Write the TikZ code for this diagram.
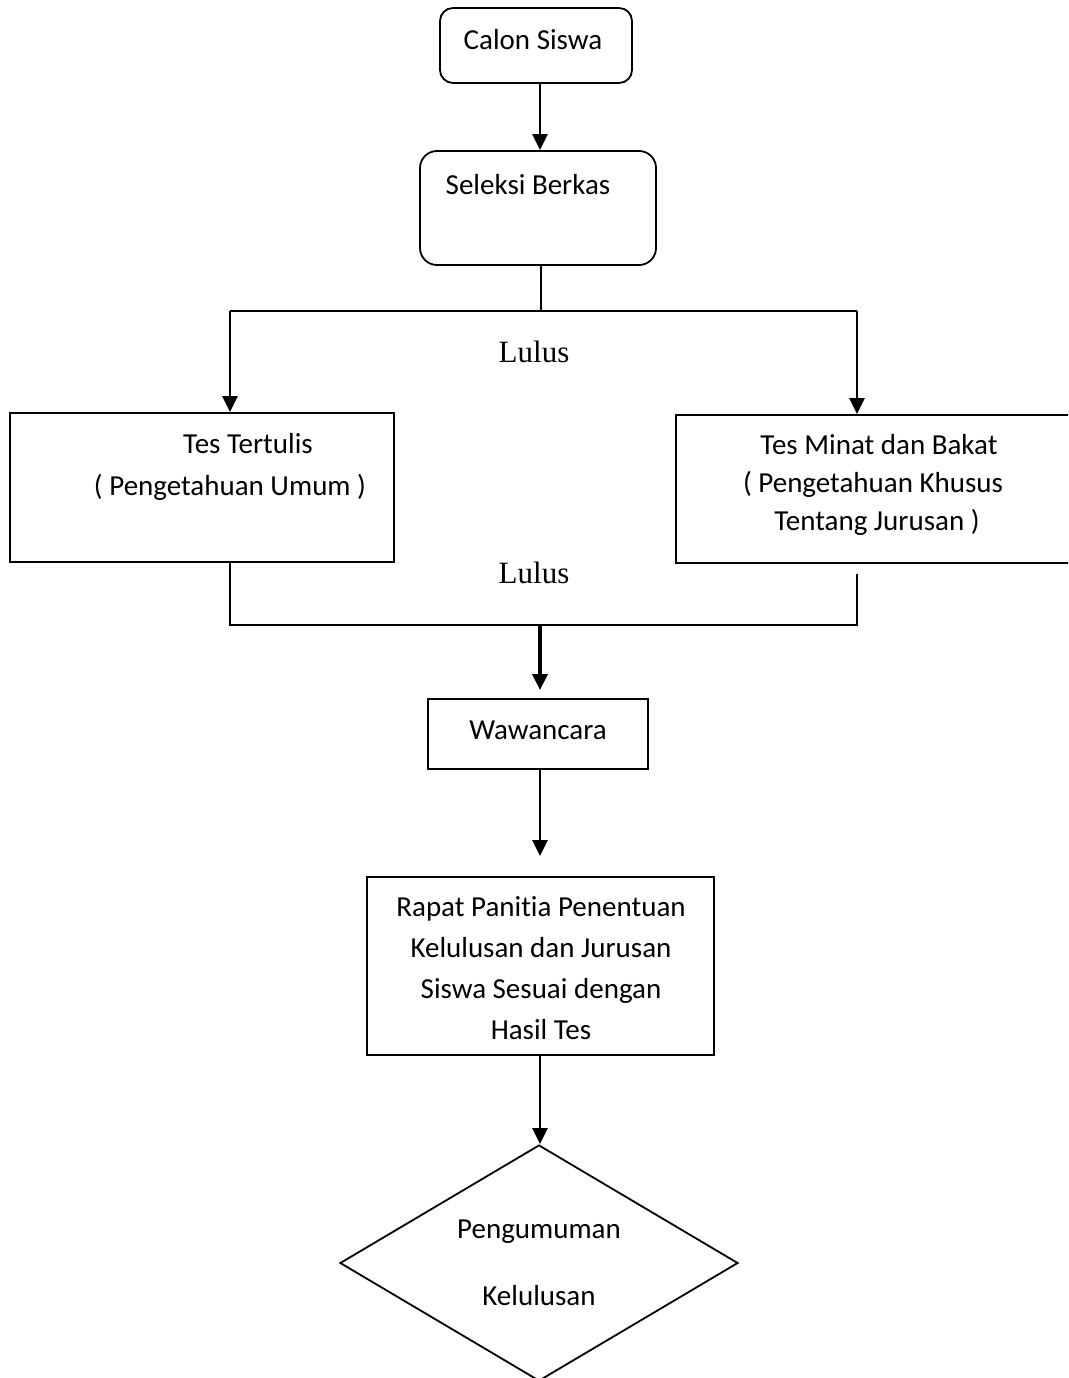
\documentclass[tikz,border=0pt]{standalone}
\usepackage{fontspec}
\setmainfont{Carlito}[Ligatures=NoCommon]
\newfontfamily\lulusfont{Liberation Serif}
\usetikzlibrary{arrows.meta,shapes.geometric}
\begin{document}
\begin{tikzpicture}[x=1pt,y=-1pt,
  boxline/.style={draw,line width=1.8pt,inner sep=0pt},
  rbox/.style={boxline,rounded corners=#1},
  lbl/.style={anchor=base,inner sep=0pt,font=\fontsize{29}{35}\selectfont},
  lulus/.style={anchor=base,inner sep=0pt,font=\lulusfont\fontsize{31}{36}\selectfont},
  conn/.style={line width=1.8pt},
  arr/.style={line width=2.4pt,-{Triangle[length=16pt,width=15pt]}}
]
\useasboundingbox (0,0) rectangle (1068,1378);
\clip (0,0) rectangle (1068,1378);

% boxes
\node[rbox=13pt,minimum width=192pt,minimum height=75pt] (calon) at (536,45.5) {};
\node[rbox=17pt,minimum width=236pt,minimum height=114pt] (seleksi) at (538,208) {};
\node[boxline,minimum width=384pt,minimum height=149pt] (tt) at (202,487.5) {};
\node[boxline,minimum width=399pt,minimum height=148pt] (tm) at (875.5,489) {};
\node[boxline,minimum width=220pt,minimum height=70pt] (waw) at (538,734) {};
\node[boxline,minimum width=347pt,minimum height=178pt] (rapat) at (540.5,966) {};
\node[boxline,shape=diamond,minimum width=398pt,minimum height=236pt] (peng) at (539,1263) {};

% texts
\node[lbl] (tcalon) at (533,50) {Calon Siswa};
\node[lbl] (tsel) at (528,194) {Seleksi Berkas};
\node[lulus] (lulus1) at (534,362) {Lulus};
\node[lbl] (ttt1) at (248,453) {Tes Tertulis};
\node[lbl] (ttt2) at (230,495) {( Pengetahuan Umum )};
\node[lbl] (ttm1) at (879,454) {Tes Minat dan Bakat};
\node[lbl] (ttm2) at (873,492) {( Pengetahuan Khusus};
\node[lbl] (ttm3) at (877,530) {Tentang Jurusan )};
\node[lulus] (lulus2) at (534,583) {Lulus};
\node[lbl] (twaw) at (538,739) {Wawancara};
\node[lbl] (tr1) at (541,916) {Rapat Panitia Penentuan};
\node[lbl] (tr2) at (541,957) {Kelulusan dan Jurusan};
\node[lbl] (tr3) at (541,998) {Siswa Sesuai dengan};
\node[lbl] (tr4) at (541,1039) {Hasil Tes};
\node[lbl] (tp1) at (539,1238) {Pengumuman};
\node[lbl] (tp2) at (539,1305) {Kelulusan};

% junction coordinates
\coordinate (cx) at (540,0);
\coordinate (s1) at (541,311);
\coordinate (sl) at (230,311);
\coordinate (sr) at (857,311);
\coordinate (j1) at (540,625);
\coordinate (jl) at (230,625);
\coordinate (jr) at (857,625);

% connectors
\draw[arr] (calon.south -| cx) -- (seleksi.north -| cx);
\draw[conn] (seleksi.south -| s1) -- (s1);
\draw[conn] (sl) -- (sr);
\draw[arr] (sl) -- (sl |- tt.north);
\draw[arr] (sr) -- (sr |- tm.north);
\draw[conn] (jl |- tt.south) -- (jl) -- (jr) -- ([yshift=-10pt]jr |- tm.south);
\draw[arr,line width=3.4pt,shorten >=8pt] (j1) -- (j1 |- waw.north);
\draw[arr,shorten >=20pt] (waw.south -| cx) -- (rapat.north -| cx);
\draw[arr] (rapat.south -| cx) -- (peng.north -| cx);
\end{tikzpicture}
\end{document}
